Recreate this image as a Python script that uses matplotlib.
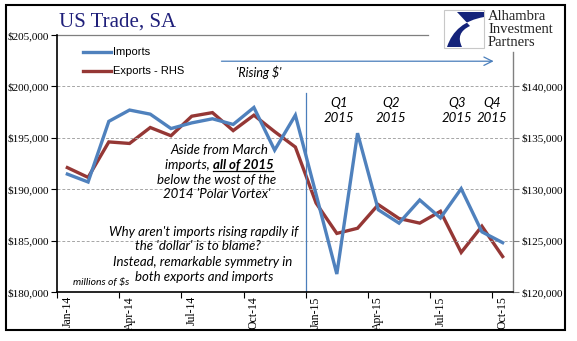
import matplotlib
matplotlib.use("Agg")
import matplotlib.pyplot as plt
from matplotlib.lines import Line2D
from matplotlib.patches import Rectangle, PathPatch
from matplotlib.path import Path
from matplotlib.ticker import FixedLocator, FuncFormatter

months = ["Jan-14", "Feb-14", "Mar-14", "Apr-14", "May-14", "Jun-14", "Jul-14", "Aug-14",
          "Sep-14", "Oct-14", "Nov-14", "Dec-14", "Jan-15", "Feb-15", "Mar-15", "Apr-15",
          "May-15", "Jun-15", "Jul-15", "Aug-15", "Sep-15", "Oct-15"]
imports = [191470, 190700, 196600, 197700, 197300, 195900, 196450, 196850, 196300, 197950,
           193800, 197200, 189500, 181750, 195450, 188000, 186700, 188950, 187200, 190050,
           185850, 184800]
exports = [132100, 131150, 134600, 134450, 136000, 135200, 137100, 137450, 135700, 137200,
           135600, 134100, 128650, 125700, 126200, 128500, 127150, 126700, 127850, 123850,
           126400, 123450]
left_ticks = [180000, 185000, 190000, 195000, 200000, 205000]
right_ticks = [120000, 125000, 130000, 135000, 140000]
quarter_labels = ["Q1\n2015", "Q2\n2015", "Q3\n2015", "Q4\n2015"]
quarter_pos = [13.1, 15.6, 18.8, 20.5]

W, H = 577, 341
fig = plt.figure(figsize=(W / 100, H / 100), dpi=100)

def fx(px):
    return px / W

def fy(py):
    return 1 - py / H

BLUE = "#4f81bd"
RED = "#953735"
ARROW = "#4a7ebb"
serif = "Liberation Serif"
sans = "Lato"

ax = fig.add_axes([fx(57), fy(292), fx(513) - fx(57), fy(35) - fy(292)])
ax2 = ax.twinx()
ax.set_zorder(ax2.get_zorder() + 1)
ax.patch.set_visible(False)

x = list(range(len(months)))
ax.set_xlim(-0.5, len(months) - 0.5)
ax.set_ylim(180000, 205000)
ax2.set_ylim(120000, 145000)

# gridlines
for v in left_ticks[1:-1]:
    ax.axhline(v, color="#a6a6a6", lw=0.7, ls=(0, (3, 2)), zorder=0)
ax.plot([-0.5, 17.4], [205000, 205000], color="#7f7f7f", lw=0.9, zorder=0, clip_on=False)

ax2.plot(x, exports, color=RED, lw=2.4, solid_joinstyle="miter", zorder=3)
ax.plot(x, imports, color=BLUE, lw=2.4, solid_joinstyle="miter", zorder=2)

# spines
for s in ["top"]:
    ax.spines[s].set_visible(False)
    ax2.spines[s].set_visible(False)
ax.spines["right"].set_visible(False)
ax2.spines["left"].set_visible(False)
ax2.spines["bottom"].set_visible(False)
ax.spines["left"].set_color("black")
ax.spines["left"].set_linewidth(1.2)
ax.spines["bottom"].set_color("black")
ax.spines["bottom"].set_linewidth(1.2)
ax2.spines["right"].set_color("#808080")
ax2.spines["right"].set_linewidth(1.0)
ax2.spines["right"].set_bounds(120000, 143350)

fmt = FuncFormatter(lambda v, p: "${:,.0f}".format(v))
ax.yaxis.set_major_locator(FixedLocator(left_ticks))
ax.yaxis.set_major_formatter(fmt)
ax2.yaxis.set_major_locator(FixedLocator(right_ticks))
ax2.yaxis.set_major_formatter(fmt)
ax.tick_params(axis="y", length=4, width=0.8, direction="out", pad=2, labelsize=8)
ax2.tick_params(axis="y", length=4, width=0.8, direction="out", pad=2, labelsize=8, color="#808080")
for lab in ax.get_yticklabels() + ax2.get_yticklabels():
    lab.set_fontfamily(serif)

ax.set_xticks(x[::3])
ax.set_xticklabels(months[::3], rotation=90, fontfamily=serif, fontsize=8.5)
ax.set_xticks([i - 0.5 for i in x[::3]], minor=True)
ax.tick_params(axis="x", which="major", length=0, pad=3)
ax.tick_params(axis="x", which="minor", length=4, width=0.8, direction="out")

# vertical marker at Jan-15
ax.plot([11.5, 11.5], [180000, 199400], color=ARROW, lw=0.9, zorder=1)

# Rising $ arrow
ax.annotate("", xy=(20.7, 202450), xytext=(7.3, 202450),
            arrowprops=dict(arrowstyle="->,head_length=0.6,head_width=0.3", color=ARROW, lw=0.9))
fig.text(fx(259), fy(72), "'Rising $'", ha="center", va="center", fontsize=9,
         style="italic", fontfamily=sans)

# quarter labels
for lab, p in zip(quarter_labels, quarter_pos):
    ax.text(p, 197700, lab, ha="center", va="center", fontsize=9.5, style="italic",
            fontfamily=sans, linespacing=1.3)

# annotation 1
FS = 9.5
ann = dict(ha="center", va="center", fontsize=FS, style="italic", fontfamily=sans)
fig.text(fx(219), fy(150), "Aside from March", **ann)
t_a = fig.text(fx(200), fy(165), "imports, ", ha="right", va="center", fontsize=FS,
               style="italic", fontfamily=sans)
t_b = fig.text(fx(200), fy(165), "all of 2015", ha="left", va="center", fontsize=FS,
               style="italic", fontweight="bold", fontfamily=sans)
fig.text(fx(217), fy(180), "below the wost of the", **ann)
fig.text(fx(217), fy(194), "2014 'Polar Vortex'", **ann)

fig.text(fx(204), fy(232), "Why aren't imports rising rapdily if", **ann)
fig.text(fx(198), fy(246), "the 'dollar' is to blame?", **ann)
fig.text(fx(203), fy(262), "Instead, remarkable symmetry in", **ann)
fig.text(fx(204), fy(277), "both exports and imports", **ann)
fig.text(fx(101), fy(283), "millions of $s", ha="center", va="center", fontsize=7.5,
         style="italic", fontfamily=sans)

# legend
fig.add_artist(Line2D([fx(83), fx(111)], [fy(52), fy(52)], color=BLUE, lw=2.4))
fig.add_artist(Line2D([fx(83), fx(111)], [fy(71), fy(71)], color=RED, lw=2.4))
fig.text(fx(113), fy(52), "Imports", ha="left", va="center", fontsize=8, fontfamily="Liberation Sans")
fig.text(fx(113), fy(71), "Exports - RHS", ha="left", va="center", fontsize=8, fontfamily="Liberation Sans")

# title
fig.text(fx(59), fy(22), "US Trade, SA", ha="left", va="center", fontsize=15,
         fontfamily=serif, color="#1f1f7a")

# logo
fig.add_artist(Rectangle((fx(444), fy(48)), fx(484) - fx(444), fy(10) - fy(48),
                         transform=fig.transFigure, facecolor="white", edgecolor="#c8c8c8", lw=0.8))
verts = [(457, 12), (484, 12), (484, 17), (455, 22), (447, 47), (462, 47), (455, 33), (470, 26),
         (457, 12)]
codes = [Path.MOVETO, Path.LINETO, Path.LINETO, Path.CURVE3, Path.CURVE3, Path.LINETO,
         Path.CURVE3, Path.CURVE3, Path.CLOSEPOLY]
fv = [(fx(a), fy(b)) for a, b in verts]
fig.add_artist(PathPatch(Path(fv, codes), transform=fig.transFigure, facecolor="#14237a",
                         edgecolor="none"))
for i, word in enumerate(["Alhambra", "Investment", "Partners"]):
    fig.text(fx(488), fy(17 + 12.5 * i), word, ha="left", va="center", fontsize=10.5,
             fontfamily=serif, color="#222222")

# outer border
fig.add_artist(Rectangle((fx(6), fy(330)), fx(565) - fx(6), fy(5) - fy(330),
                         transform=fig.transFigure, fill=False, edgecolor="black", lw=1.5))

# center and underline the bold phrase
fig.canvas.draw()
r = fig.canvas.get_renderer()
ba = t_a.get_window_extent(r)
bb = t_b.get_window_extent(r)
total = ba.width + bb.width
left = 219 - total / 2
joint = left + ba.width
t_a.set_x(fx(joint))
t_b.set_x(fx(joint))
fig.canvas.draw()
bb = t_b.get_window_extent(r)
fig.add_artist(Line2D([bb.x0 / W, bb.x1 / W], [fy(171), fy(171)], color="black", lw=0.9))

fig.savefig("out.png", dpi=100)
